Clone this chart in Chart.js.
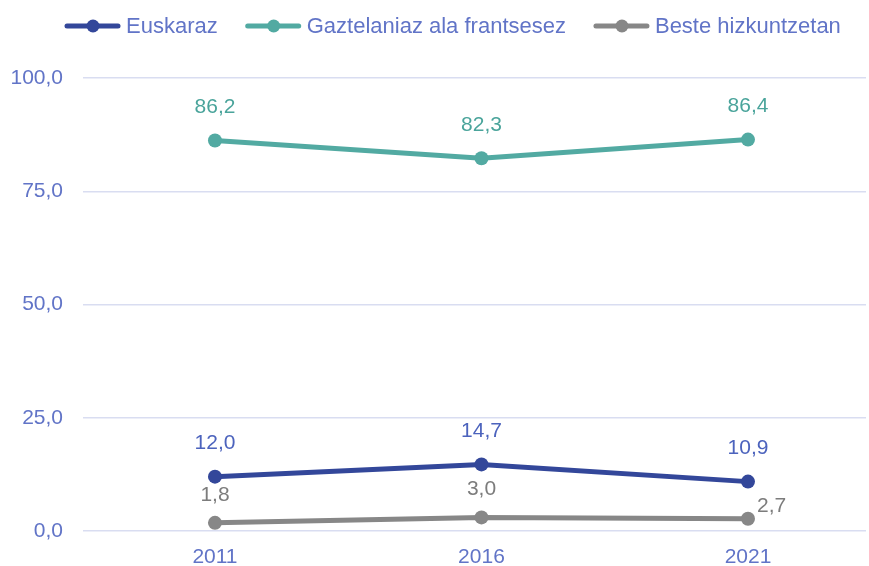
<!DOCTYPE html>
<html>
<head>
<meta charset="utf-8">
<script src="https://cdn.jsdelivr.net/npm/chart.js@4/dist/chart.umd.min.js"></script>
<style>
  html, body { margin: 0; padding: 0; background: #fff; }
  #wrap { width: 869px; height: 566px; }
</style>
</head>
<body>
<div id="wrap"><canvas id="langChart"></canvas></div>
<script>
const years = [2011, 2016, 2021];
const euskaraz = [12.0, 14.7, 10.9];
const gaztelania = [86.2, 82.3, 86.4];
const beste = [1.8, 3.0, 2.7];
const seriesNames = ["Euskaraz", "Gaztelaniaz ala frantsesez", "Beste hizkuntzetan"];
const yTicks = [0, 25, 50, 75, 100];

const FONT = "'Liberation Sans', Arial, sans-serif";
const tickColor = "#6174c7";

const fmt = v => v.toFixed(1).replace(".", ",");
const toPoints = arr => arr.map((v, i) => ({ x: years[i], y: v }));

// line + dot legend drawn by hand, like the original office chart
const lineLegend = {
  id: "lineLegend",
  afterDraw(chart) {
    const c = chart.ctx;
    c.save();
    c.font = "22px " + FONT;
    c.textBaseline = "middle";
    let x = 65;
    const y = 26;
    chart.data.datasets.forEach(ds => {
      c.strokeStyle = ds.borderColor;
      c.lineWidth = 5;
      c.lineCap = "round";
      c.beginPath();
      c.moveTo(x + 2, y);
      c.lineTo(x + 53, y);
      c.stroke();
      c.fillStyle = ds.borderColor;
      c.beginPath();
      c.arc(x + 28, y, 6.5, 0, Math.PI * 2);
      c.fill();
      c.fillStyle = tickColor;
      c.textAlign = "left";
      c.fillText(ds.label, x + 61, y + 1);
      x += 61 + c.measureText(ds.label).width + 28;
    });
    c.restore();
  }
};

// value labels above each point
const valueLabels = {
  id: "valueLabels",
  afterDatasetsDraw(chart) {
    const c = chart.ctx;
    c.save();
    c.font = "21px " + FONT;
    c.textBaseline = "middle";
    chart.data.datasets.forEach((ds, di) => {
      const meta = chart.getDatasetMeta(di);
      meta.data.forEach((pt, i) => {
        const v = ds.data[i].y;
        c.fillStyle = ds.labelColor;
        let lx = pt.x, ly = pt.y - ds.labelGap;
        c.textAlign = "center";
        if (di === 2 && i === years.length - 1) {
          c.textAlign = "left";
          lx = pt.x + 9;
          ly = pt.y - 13;
        }
        c.fillText(fmt(v), lx, ly);
      });
    });
    c.restore();
  }
};

const data = {
  datasets: [
    {
      label: seriesNames[0],
      data: toPoints(euskaraz),
      borderColor: "#33479a",
      backgroundColor: "#33479a",
      labelColor: "#4c63bd",
      labelGap: 33
    },
    {
      label: seriesNames[1],
      data: toPoints(gaztelania),
      borderColor: "#52aaa2",
      backgroundColor: "#52aaa2",
      labelColor: "#4aa49b",
      labelGap: 33
    },
    {
      label: seriesNames[2],
      data: toPoints(beste),
      borderColor: "#878787",
      backgroundColor: "#878787",
      labelColor: "#7c7c7c",
      labelGap: 28
    }
  ]
};

const config = {
  type: "line",
  data: data,
  options: {
    responsive: true,
    maintainAspectRatio: false,
    animation: false,
    layout: { autoPadding: false, padding: { top: 78, right: 3, left: 0, bottom: 0 } },
    elements: {
      line: { borderWidth: 5, tension: 0 },
      point: { radius: 7, hoverRadius: 7, borderWidth: 0 }
    },
    plugins: {
      legend: { display: false },
      tooltip: { enabled: false }
    },
    scales: {
      x: {
        type: "linear",
        min: 2008.524,
        max: 2023.214,
        afterBuildTicks: s => { s.ticks = years.map(v => ({ value: v })); },
        afterFit: s => { s.height = 35; s.paddingLeft = 0; s.paddingRight = 0; },
        grid: { display: false, drawTicks: false },
        border: { display: false },
        ticks: {
          color: tickColor,
          font: { family: FONT, size: 21 },
          padding: 14,
          callback: v => String(v)
        }
      },
      y: {
        min: 0,
        max: 100,
        afterBuildTicks: s => { s.ticks = yTicks.map(v => ({ value: v })); },
        afterFit: s => { s.width = 83; },
        grid: { color: "#d9ddf1", lineWidth: 1.5, drawTicks: false },
        border: { display: false },
        ticks: {
          color: tickColor,
          font: { family: FONT, size: 21 },
          padding: 20,
          callback: v => fmt(v)
        }
      }
    }
  },
  plugins: [lineLegend, valueLabels]
};

const langChart = new Chart(document.getElementById("langChart"), config);
</script>
</body>
</html>
